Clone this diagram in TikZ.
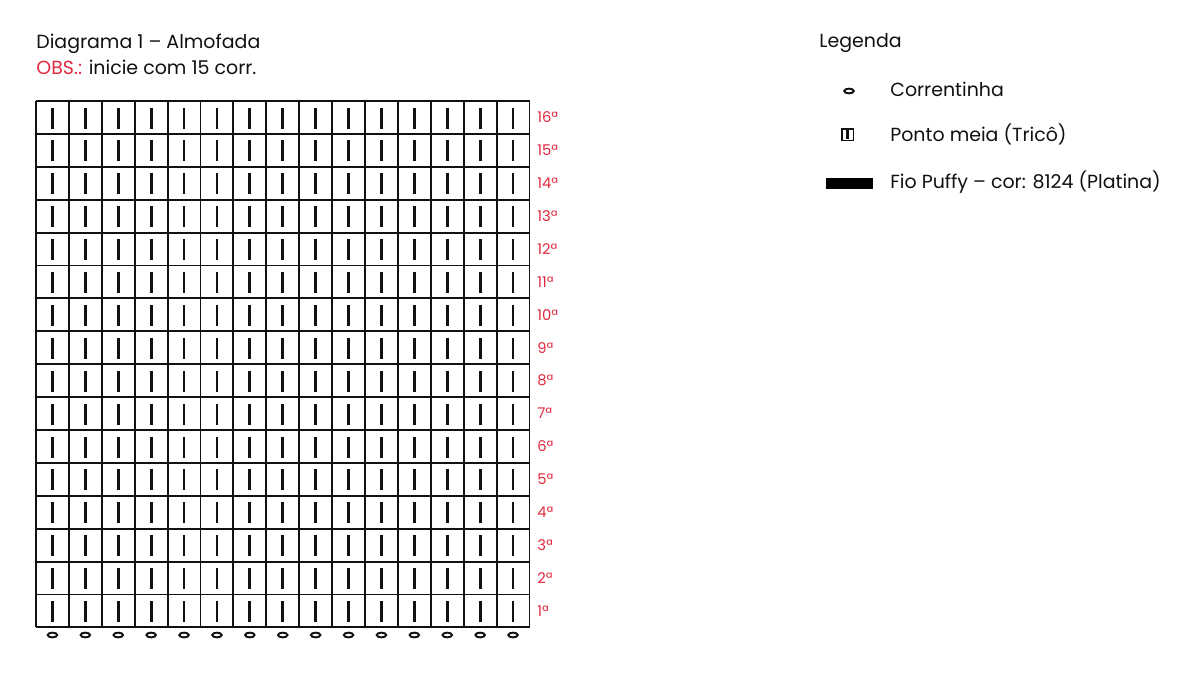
\documentclass[tikz,border=0pt]{standalone}
\usepackage{fontspec}
\setmainfont{Poppins}
\usetikzlibrary{positioning,shapes.geometric}
\definecolor{dred}{HTML}{E0293E}
\definecolor{dink}{HTML}{111111}

\begin{document}
\begin{tikzpicture}[x=0.02cm,y=-0.02cm,
  title/.style={anchor=west, inner sep=0pt, font=\fontsize{10.8}{13}\selectfont, text=dink},
  rowlab/.style={anchor=west, inner sep=0pt, font=\fontsize{8.4}{10}\selectfont, text=dred},
  chain/.style={draw=dink, ellipse, line width=1.1pt, inner sep=0pt, minimum width=5.4pt, minimum height=2.7pt},
  stitch/.style={dink, line width=1.6pt}]
 \useasboundingbox (0,0) rectangle (1200,674);
 \def\cs{32.9}
 % title
 \node[title] (ttl) at (36,44) {Diagrama 1 – Almofada};
 \node[title] (obs) at (36,67) {\textcolor{dred}{OBS.:} inicie com 15 corr.};
 % stitches
 \foreach \c in {0,...,14}{
  \foreach \r in {0,...,15}{
   \draw[stitch] (36+\c*\cs+0.5*\cs,101+\r*\cs+6.5) -- (36+\c*\cs+0.5*\cs,101+\r*\cs+27.5);
  }
  \node[chain] (ch\c) at (36+\c*\cs+0.5*\cs,635) {};
 }
 % grid
 \foreach \c in {0,...,15}
  \draw[dink, line width=1.1pt] (36+\c*\cs,101) -- (36+\c*\cs,101+16*\cs);
 \foreach \r in {0,...,16}
  \draw[dink, line width=1.1pt] (36,101+\r*\cs) -- (36+15*\cs,101+\r*\cs);
 % row numbers
 \foreach \r in {1,...,16}
  \node[rowlab] (row\r) at (537,101+16*\cs-\r*\cs+0.5*\cs) {\r ª};
 % legend
 \node[title] (leg) at (819,43) {Legenda};
 \node[chain] (legch) at (849,91) {};
 \node[title] (lch) at (890,89) {Correntinha};
 \node[draw=dink, line width=0.9pt, minimum size=6.6pt, inner sep=0pt] (legpm) at (847.5,134.5) {};
 \draw[stitch, line width=1.2pt] (847.5,130) -- (847.5,139);
 \node[title] (lpm) at (890,134) {Ponto meia (Tricô)};
 \fill[black] (826,177.5) rectangle (873,188.5);
 \node[title] (lfio) at (890,182) {Fio Puffy – cor: 8124 (Platina)};
\end{tikzpicture}
\end{document}
